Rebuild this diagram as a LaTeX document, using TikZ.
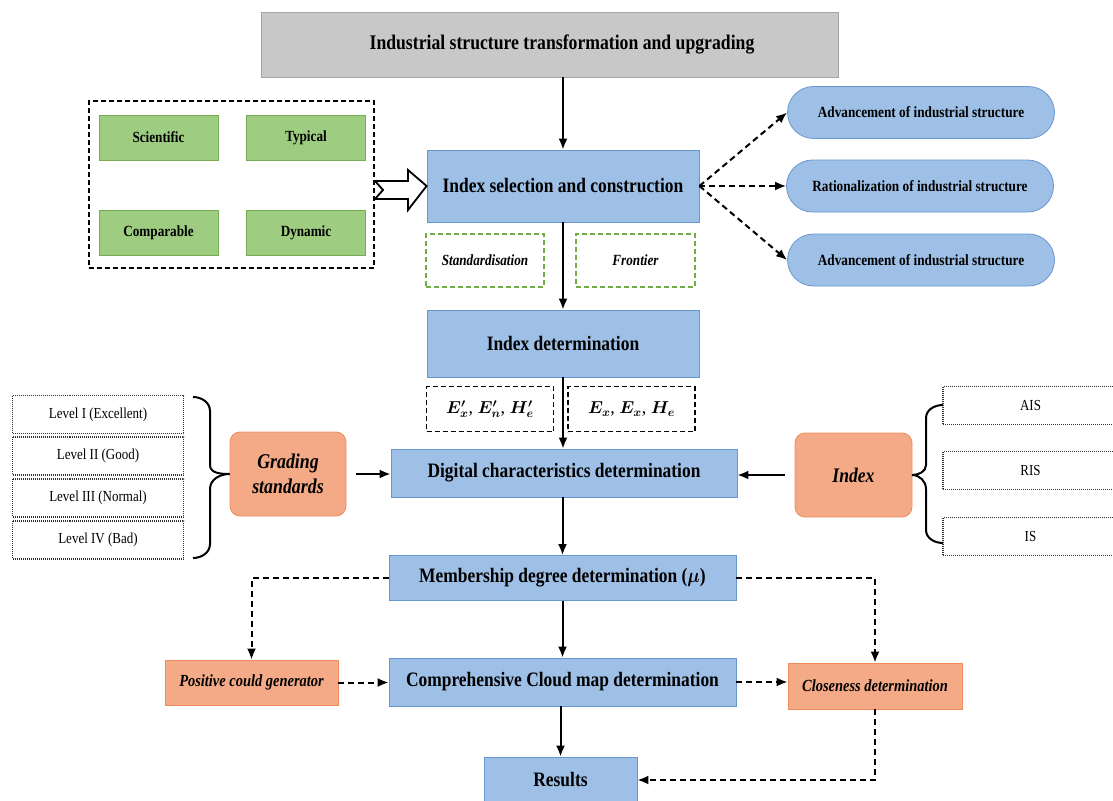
\documentclass[tikz,border=0pt]{standalone}
\usepackage{fontspec}
\usepackage{graphicx}
\usepackage{bm}
\setmainfont{Liberation Serif}
\usetikzlibrary{arrows.meta,calc}
\newcommand{\cz}[1]{\scalebox{0.85}[1]{#1}}
\definecolor{bfill}{RGB}{158,192,230}
\definecolor{bdraw}{RGB}{105,150,208}
\definecolor{ofill}{RGB}{244,170,135}
\definecolor{odraw}{RGB}{240,140,90}
\definecolor{gfill}{RGB}{158,204,128}
\definecolor{gdraw}{RGB}{118,172,82}
\definecolor{grfill}{RGB}{200,200,200}
\definecolor{grdraw}{RGB}{165,165,165}
\definecolor{gdash}{RGB}{112,173,71}
\tikzset{
  base/.style={inner sep=0pt, align=center},
  bluebox/.style={base, rectangle, fill=bfill, draw=bdraw, line width=0.8pt, font=\fontsize{20.5}{24}\selectfont\bfseries},
  greenbox/.style={base, rectangle, fill=gfill, draw=gdraw, line width=0.8pt, minimum width=119pt, minimum height=45pt, font=\fontsize{15.5}{18}\selectfont\bfseries},
  pill/.style={base, rectangle, rounded corners=26pt, fill=bfill, draw=bdraw, line width=0.8pt, minimum width=267pt, minimum height=52pt, font=\fontsize{15.6}{18}\selectfont\bfseries},
  orbox/.style={base, rectangle, fill=ofill, draw=odraw, line width=0.8pt, font=\fontsize{17}{20}\selectfont\bfseries\itshape},
  gdashbox/.style={base, rectangle, draw=gdash, dash pattern=on 5pt off 3pt, line width=1.6pt, minimum width=118pt, minimum height=53pt, font=\fontsize{15.5}{18}\selectfont\bfseries\itshape},
  kdashbox/.style={base, rectangle, draw=black, dash pattern=on 5pt off 3pt, line width=1.8pt, minimum width=127pt, minimum height=45pt, font=\fontsize{18}{20}\selectfont},
  dotbox/.style={base, rectangle, draw=black!80, dash pattern=on 1pt off 1pt, line width=1.1pt, minimum height=38pt, font=\fontsize{15.3}{18}\selectfont},
  arr/.style={line width=2pt, -{Latex[length=11pt,width=9pt]}},
  darr/.style={line width=2pt, dash pattern=on 6pt off 4pt, -{Latex[length=11pt,width=9pt]}},
}
\begin{document}
\begin{tikzpicture}[x=1pt,y=-1pt]
\useasboundingbox (0,0) rectangle (1113,800);
% title
\node[base, rectangle, fill=grfill, draw=grdraw, line width=0.8pt, minimum width=577pt, minimum height=65pt, font=\fontsize{20.8}{24}\selectfont\bfseries] (title) at (549.5,44.5) {\hspace*{25pt}\cz{Industrial structure transformation and upgrading}};
% main chain
\node[bluebox, minimum width=272pt, minimum height=72pt] (isc) at (563,186) {\cz{Index selection and construction}};
\node[bluebox, minimum width=272pt, minimum height=67pt] (idet) at (563,343.5) {\cz{Index determination}};
\node[bluebox, minimum width=346pt, minimum height=48pt] (dig) at (564,473) {\cz{Digital characteristics determination}};
\node[bluebox, minimum width=347pt, minimum height=45pt] (mem) at (562.5,578) {\cz{Membership degree determination ($\bm{\mu}$)}};
\node[bluebox, minimum width=347pt, minimum height=48pt] (comp) at (562.5,682) {\cz{Comprehensive Cloud map determination}};
\node[bluebox, minimum width=153pt, minimum height=46pt] (res) at (560.5,780) {\cz{Results}};
% green group
\node[base, rectangle, draw=black, dash pattern=on 5pt off 3pt, line width=2pt, minimum width=285pt, minimum height=167pt] (grp) at (231.5,184.5) {};
\node[greenbox] (sci) at (158.5,137.5) {\cz{Scientific}};
\node[greenbox] (typ) at (306,137.5) {\cz{Typical}};
\node[greenbox] (cmp) at (158.5,233) {\cz{Comparable}};
\node[greenbox] (dyn) at (306,233) {\cz{Dynamic}};
% hollow block arrow
\draw[line width=1.8pt, fill=white, line join=miter]
  (grp.east |- 0,181) -- (408,181) -- (408,170) -- (isc.west) -- (408,210) -- (408,199) -- (grp.east |- 0,199) -- (383,190) -- cycle;
% green dashed
\node[gdashbox] (std) at (485,260.5) {\cz{Standardisation}};
\node[gdashbox, minimum width=119pt] (fro) at (635.5,260.5) {\cz{Frontier}};
% pills
\node[pill] (adv1) at (921,112.5) {\cz{Advancement of industrial structure}};
\node[pill] (rat) at (920,186) {\cz{Rationalization of industrial structure}};
\node[pill] (adv2) at (921,260) {\cz{Advancement of industrial structure}};
% E boxes
\node[kdashbox] (ep) at (490,409) {$\bm{E'_x}$, $\bm{E'_n}$, $\bm{H'_e}$};
\node[kdashbox] (en) at (631.5,409) {$\bm{E_x}$, $\bm{E_x}$, $\bm{H_e}$};
% grading
\node[orbox, rounded corners=10pt, minimum width=116pt, minimum height=84pt, font=\fontsize{21}{25}\selectfont\bfseries\itshape] (grd) at (288,474) {\cz{Grading}\\\cz{standards}};
\node[orbox, rounded corners=10pt, minimum width=117pt, minimum height=84pt, font=\fontsize{20.7}{24}\selectfont\bfseries\itshape] (idx) at (853.5,475) {\cz{Index}};
% levels
\node[dotbox, minimum width=171pt] (l1) at (98,414.5) {\cz{Level I (Excellent)}};
\node[dotbox, minimum width=171pt] (l2) at (98,456) {\cz{Level II (Good)}};
\node[dotbox, minimum width=171pt] (l3) at (98,498) {\cz{Level III (Normal)}};
\node[dotbox, minimum width=171pt] (l4) at (98,540) {\cz{Level IV (Bad)}};
% AIS
\node[dotbox, minimum width=175pt] (ais) at (1030.5,405.5) {\cz{AIS}};
\node[dotbox, minimum width=175pt] (ris) at (1030.5,470.5) {\cz{RIS}};
\node[dotbox, minimum width=175pt] (is) at (1030.5,536.5) {\cz{IS}};
% braces
\draw[line width=2pt] (193,397) to[out=0,in=90] (210,411) -- (210,465) to[out=-90,in=180] (grd.west);
\draw[line width=2pt] (193,558) to[out=0,in=-90] (210,544) -- (210,489) to[out=90,in=180] (grd.west);
\draw[line width=2pt] (943,405) to[out=180,in=90] (926,418) -- (926,465) to[out=-90,in=0] (idx.west -| 912,477);
\draw[line width=2pt] (943,543) to[out=180,in=-90] (926,530) -- (926,489) to[out=90,in=0] (idx.west -| 912,477);
% positive / closeness
\node[orbox, minimum width=173pt, minimum height=45pt] (pos) at (251.5,682.5) {\cz{Positive could generator}};
\node[orbox, minimum width=174pt, minimum height=46pt] (clo) at (875,686) {\cz{Closeness determination}};
% arrows
\draw[arr] (title.south -| isc.north) -- (isc.north);
\draw[arr] (isc.south) -- (idet.north);
\draw[arr] (idet.south) -- (idet.south |- dig.north);
\draw[arr] (dig.south -| mem.north) -- (mem.north);
\draw[arr] (mem.south) -- (comp.north);
\draw[arr] (comp.south -| res.north) -- (res.north);
\draw[arr, shorten <=10pt] (grd.east) -- (dig.west |- grd.east);
\draw[arr, shorten <=10pt] (idx.west) -- (dig.east |- idx.west);
\draw[darr] (isc.east) -- (adv1.west);
\draw[darr] (isc.east) -- (rat.west);
\draw[darr] (isc.east) -- (adv2.west);
\draw[darr] (mem.west) -| (pos.north);
\draw[darr] (mem.east) -| (clo.north);
\draw[darr] (pos.east) -- (comp.west |- pos.east);
\draw[darr] (comp.east) -- (clo.west |- comp.east);
\draw[darr] (clo.south) |- (res.east);
\end{tikzpicture}
\end{document}
